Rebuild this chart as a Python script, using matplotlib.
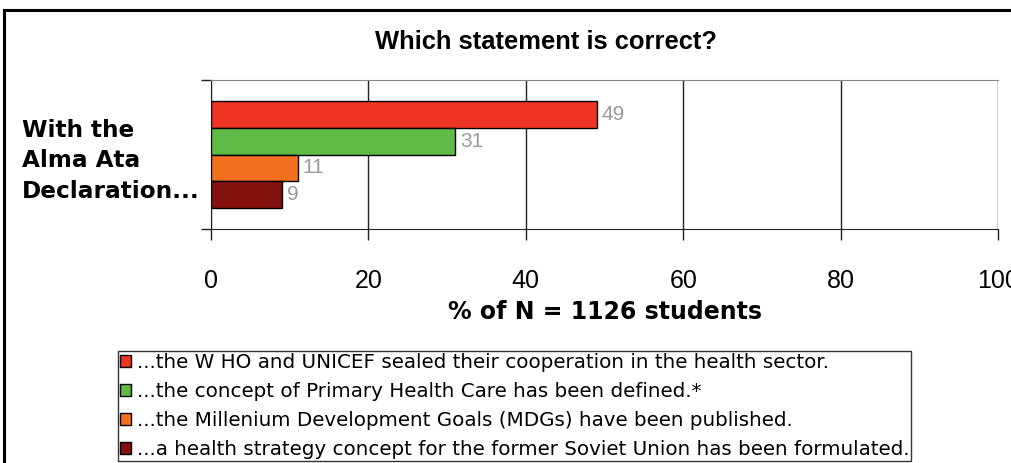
import numpy as np
import matplotlib
matplotlib.use("Agg")
from matplotlib import pyplot as plt
from matplotlib.patches import Rectangle

plt.rcParams['font.family'] = ['Liberation Sans', 'DejaVu Sans']
WIDE = ['DejaVu Sans', 'Liberation Sans']

# data
title = "Which statement is correct?"
category = "With the\nAlma Ata\nDeclaration..."
answers = [
    "...the W HO and UNICEF sealed their cooperation in the health sector.",
    "...the concept of Primary Health Care has been defined.*",
    "...the Millenium Development Goals (MDGs) have been published.",
    "...a health strategy concept for the former Soviet Union has been formulated.",
]
percent = [49, 31, 11, 9]
colors = ['#EE3524', '#5FBA46', '#F37021', '#83110D']
xticks = [0, 20, 40, 60, 80, 100]
xlabel = "% of N = 1126 students"

W, H = 1011, 463
fig = plt.figure(figsize=(W / 100, H / 100), dpi=100)
ax = fig.add_axes([211 / W, 1 - 229 / H, 787 / W, 149 / H])

# outer frame of the slide (only left and top edge are in view)
fig.patches.append(Rectangle((3.5 / W, -0.1), 1.2, 1 - 10.5 / H + 0.1,
                             transform=fig.transFigure, fill=False,
                             edgecolor='black', linewidth=2.2, zorder=0))

bh = 0.178
offsets = np.array([1.5, 0.5, -0.5, -1.5]) * bh
bars = []
for val, off, col, lab in zip(percent, offsets, colors, answers):
    b = ax.barh(off, val, height=bh, color=col, edgecolor='black',
                linewidth=1, label=lab, zorder=3)
    bars.append(b)
    ax.text(val + 0.65, off, str(val), va='center', ha='left',
            color='#9a9a9a', fontsize=15, zorder=4)

ax.set_xlim(0, 100)
ax.set_ylim(-0.5, 0.5)
ax.set_xticks(xticks)
ax.set_xticklabels([str(t) for t in xticks], fontsize=18)
ax.tick_params(axis='x', direction='out', length=8, width=1, pad=21,
               color='#222222')
ax.grid(axis='x', color='#222222', linewidth=1, zorder=1)

ax.set_yticks([0])
ax.set_yticklabels([category], fontsize=16.7, fontweight='bold',
                   multialignment='left', family=WIDE, linespacing=1.42)
ax.tick_params(axis='y', which='major', length=0, pad=8)
ax.set_yticks([-0.5, 0.5], minor=True)
ax.tick_params(axis='y', which='minor', direction='out', length=7,
               width=1, color='#222222')

ax.spines['right'].set_visible(False)
ax.spines['top'].set_color('#888888')
ax.spines['left'].set_color('#222222')
ax.spines['bottom'].set_color('#222222')

ax.set_xlabel(xlabel, fontsize=17, fontweight='bold', labelpad=5,
              family=WIDE)

fig.text(546 / W, 1 - 42 / H, title, ha='center', va='center',
         fontsize=18.4, fontweight='bold')

leg = fig.legend(handles=bars, labels=answers, loc='upper left',
                 bbox_to_anchor=(118 / W, 1 - 351 / H), borderaxespad=0,
                 prop={'family': WIDE, 'size': 14.3},
                 frameon=True, fancybox=False, shadow=False,
                 handlelength=0.55, handleheight=0.55, handletextpad=0.3,
                 labelspacing=0.5, borderpad=0.1)
leg.get_frame().set_edgecolor('black')
leg.get_frame().set_linewidth(1)

fig.savefig("out.png", dpi=100)
